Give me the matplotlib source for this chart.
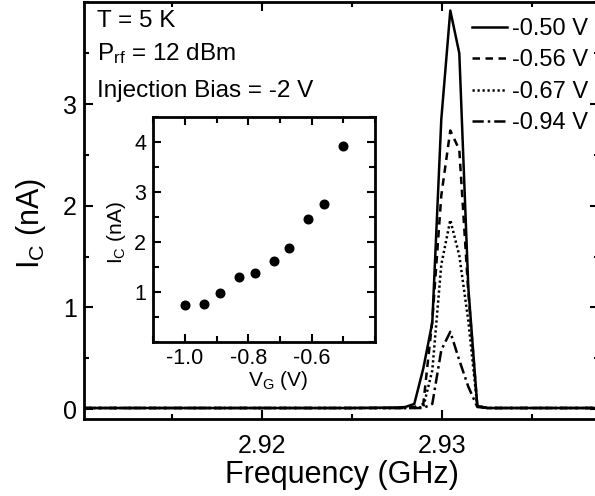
import matplotlib
matplotlib.use("Agg")
import matplotlib.pyplot as plt
from matplotlib.ticker import MultipleLocator

plt.rcParams['font.family'] = ['Liberation Sans', 'DejaVu Sans']
plt.rcParams['mathtext.fontset'] = 'custom'
plt.rcParams['mathtext.rm'] = 'Liberation Sans'
plt.rcParams['mathtext.default'] = 'regular'

# 主図: 周波数 (GHz) と I_C (nA)
freq = [2.9101, 2.915, 2.920, 2.925, 2.9275, 2.92795, 2.92845, 2.92895, 2.92945,
        2.92995, 2.93045, 2.93095, 2.93145, 2.93195, 2.9325, 2.935, 2.9387]
ic_050 = [0.01, 0.01, 0.01, 0.01, 0.015, 0.02, 0.05, 0.40, 0.85,
          2.85, 3.92, 3.50, 1.20, 0.03, 0.01, 0.01, 0.01]
ic_056 = [0.01, 0.01, 0.01, 0.01, 0.01, 0.01, 0.02, 0.05, 0.87,
          2.10, 2.74, 2.55, 1.15, 0.03, 0.01, 0.01, 0.01]
ic_067 = [0.01, 0.01, 0.01, 0.01, 0.01, 0.01, 0.01, 0.02, 0.38,
          1.42, 1.86, 1.51, 0.87, 0.03, 0.01, 0.01, 0.01]
ic_094 = [0.01, 0.01, 0.01, 0.01, 0.01, 0.01, 0.01, 0.01, 0.05,
          0.58, 0.76, 0.48, 0.22, 0.02, 0.01, 0.01, 0.01]
labels = ["-0.50 V", "-0.56 V", "-0.67 V", "-0.94 V"]

# 挿入図: V_G (V) と ピーク I_C (nA)
vg = [-1.00, -0.94, -0.89, -0.83, -0.78, -0.72, -0.67, -0.61, -0.56, -0.50]
ic_peak = [0.73, 0.76, 0.97, 1.29, 1.38, 1.62, 1.87, 2.45, 2.75, 3.92]

W, H = 595, 496
fig = plt.figure(figsize=(W / 100, H / 100), dpi=100)

ax = fig.add_axes([84 / W, (H - 419.2) / H, 514.8 / W, 416.8 / H])
styles = ["-", (0, (3, 2.2)), (0, (0.9, 1.1)), (0, (4.5, 1.6, 1.0, 1.6))]
for y, ls, lab in zip([ic_050, ic_056, ic_067, ic_094], styles, labels):
    ax.plot(freq, y, color="black", linestyle=ls, linewidth=1.8, label=lab)

ax.set_xlim(2.9101, 2.9387)
ax.set_ylim(-0.1, 4.0)
ax.xaxis.set_minor_locator(MultipleLocator(0.005))
ax.yaxis.set_minor_locator(MultipleLocator(0.5))
ax.set_xticks([2.92, 2.93])
ax.set_xticklabels(["2.92", "2.93"])
ax.set_yticks([0, 1, 2, 3])
ax.tick_params(which="both", direction="in", top=True, right=True, width=1.5)
ax.tick_params(which="major", length=6.5, labelsize=18)
ax.tick_params(axis="x", which="major", pad=10.5)
ax.tick_params(axis="y", which="major", pad=5)
ax.tick_params(which="minor", length=3.8)
for s in ax.spines.values():
    s.set_linewidth(2.0)

ax.set_xlabel("Frequency (GHz)", fontsize=22)
ax.set_ylabel(r"I$_\mathregular{C}$ (nA)", fontsize=22)
ax.xaxis.set_label_coords((342 - 84) / 514.8, -(460 - 419.2) / 416.8)
ax.yaxis.set_label_coords(-(84 - 48) / 514.8, 0.47)

fig.text(97 / W, 1 - 27.3 / H, "T = 5 K", fontsize=17.5, va="baseline")
fig.text(97 / W, 1 - 60 / H, r"P$_\mathregular{rf}$ = 12 dBm", fontsize=17.5, va="baseline")
fig.text(97 / W, 1 - 96.7 / H, "Injection Bias = -2 V", fontsize=17.5, va="baseline")

ax.legend(loc="upper left", bbox_to_anchor=(472 / W, 1 - 18 / H),
          bbox_transform=fig.transFigure, frameon=False, fontsize=17,
          handlelength=1.5, handletextpad=0.2, labelspacing=0.4,
          borderpad=0, borderaxespad=0)

ins = fig.add_axes([153.3 / W, (H - 341.5) / H, 221.7 / W, 224.2 / H])
ins.plot(vg, ic_peak, "o", color="black", markersize=6.2)
ins.set_xlim(-1.1, -0.4)
ins.set_ylim(0, 4.5)
ins.xaxis.set_minor_locator(MultipleLocator(0.1))
ins.yaxis.set_minor_locator(MultipleLocator(0.5))
ins.set_xticks([-1.0, -0.8, -0.6])
ins.set_xticklabels(["-1.0", "-0.8", "-0.6"])
ins.set_yticks([1, 2, 3, 4])
ins.tick_params(which="both", direction="in", top=True, right=True, width=1.5)
ins.tick_params(which="major", length=6, labelsize=15.5, pad=5)
ins.tick_params(which="minor", length=4.5)
for s in ins.spines.values():
    s.set_linewidth(2.0)
ins.set_xlabel(r"V$_\mathregular{G}$ (V)", fontsize=15)
ins.set_ylabel(r"I$_\mathregular{C}$ (nA)", fontsize=15)
ins.xaxis.set_label_coords((278 - 153.3) / 221.7, -(369 - 341.5) / 224.2)
ins.yaxis.set_label_coords(-(153.3 - 128) / 221.7, (341.5 - 232) / 224.2)

fig.savefig("out.png", dpi=100)
